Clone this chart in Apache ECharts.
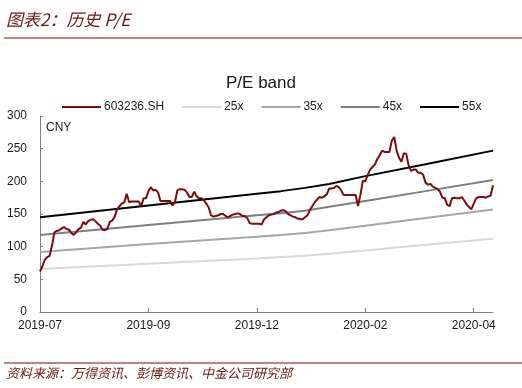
<!DOCTYPE html>
<html>
<head>
<meta charset="utf-8">
<script src="https://cdn.jsdelivr.net/npm/echarts@6/dist/echarts.min.js"></script>
<style>
html,body{margin:0;padding:0;background:#fff;}
#c{width:522px;height:388px;}
</style>
</head>
<body>
<div id="c"></div>
<script>
// Tick labels (one every 45 trading days)
var tickLabels = ['2019-07', '2019-09', '2019-12', '2020-02', '2020-04'];
var tickStep = 45;

// 603236.SH daily close (CNY)
var price = [
  62, 70, 80, 84, 86, 102, 122, 124, 125, 128,
  130, 127, 126, 121, 118, 122, 127, 129, 138, 134,
  139, 141, 142, 139, 135, 132, 126, 125, 128, 138,
  140, 146, 157, 162, 166, 168, 181, 168, 169, 169,
  169, 169, 162, 174, 174, 185, 191, 186, 187, 183,
  170, 170, 170, 170, 170, 163, 168, 186, 188, 188,
  187, 183, 176, 176, 184, 177, 174, 174, 171, 166,
  160, 148, 146, 147, 148, 150, 150, 147, 145, 147,
  149, 150, 151, 150, 147, 147, 144, 136, 135, 135,
  135, 135, 134, 142, 145, 148, 149, 150, 152, 153,
  155, 156, 154, 150, 148, 146, 145, 143, 142, 142,
  145, 148, 156, 162, 168, 172, 176, 175, 177, 180,
  189, 189, 190, 193, 191, 186, 179, 179, 179, 179,
  179, 179, 162, 180, 201, 200, 210, 218, 222, 226,
  234, 240, 247, 245, 245, 245, 262, 268, 247, 236,
  230, 243, 242, 224, 216, 218, 218, 213, 213, 210,
  198, 195, 196, 192, 190, 188, 184, 175, 174, 164,
  162, 174, 175, 174, 174, 176, 171, 165, 161, 157,
  166, 174, 176, 176, 176, 175, 177, 178, 194
];

// P/E band values read at these trading-day indices
var bandIdx = [0, 45, 90, 100, 110, 120, 135, 160, 188];
var pe25 = [66, 74, 82, 84, 86, 89, 94, 103, 112];
var pe35 = [92, 104, 115, 118, 121, 125, 132, 144, 157];
var pe45 = [118, 133, 148, 151, 155, 161, 170, 185, 202];
var pe55 = [145, 163, 181, 185, 190, 196, 208, 226, 247];

var seriesNames = ['603236.SH', '25x', '35x', '45x', '55x'];
var seriesColors = ['#7a0c0c', '#d9d9d9', '#a6a6a6', '#7f7f7f', '#000000'];

var categories = price.map(function (_, i) { return String(i); });

function band(vals) {
  var arr = price.map(function () { return null; });
  bandIdx.forEach(function (idx, k) { arr[idx] = vals[k]; });
  return arr;
}

var latin = "'Liberation Sans', Arial, sans-serif";
var cjk = "'Noto Sans CJK SC', sans-serif";
var headColor = '#6b1414';

var chart = echarts.init(document.getElementById('c'), null, {renderer: 'canvas'});
var bandsData = [price, band(pe25), band(pe35), band(pe45), band(pe55)];

chart.setOption({
  animation: false,
  backgroundColor: '#fff',
  title: [{
    text: 'P/E band',
    left: 'center',
    top: 70,
    textStyle: {fontFamily: latin, fontSize: 17, fontWeight: 'normal', color: '#1a1a1a'}
  }],
  legend: {
    top: 96,
    left: 57,
    icon: 'rect',
    itemWidth: 39,
    itemHeight: 2,
    itemGap: 18,
    textStyle: {fontFamily: latin, fontSize: 12, color: '#1a1a1a', padding: [0, 0, 0, -2]},
    data: seriesNames
  },
  grid: {left: 40, right: 29, top: 116, bottom: 76, containLabel: false},
  xAxis: {
    type: 'category',
    boundaryGap: false,
    data: categories,
    axisLine: {lineStyle: {color: '#808080', width: 1}},
    axisTick: {show: true, inside: true, length: 4, interval: tickStep - 1, lineStyle: {color: '#808080'}},
    axisLabel: {
      interval: tickStep - 1,
      margin: 8,
      fontFamily: latin, fontSize: 12, color: '#1a1a1a',
      formatter: function (v, idx) { return tickLabels[Math.round(idx / tickStep)] || ''; }
    },
    splitLine: {show: false}
  },
  yAxis: {
    type: 'value',
    min: 0, max: 300, interval: 50,
    name: 'CNY',
    nameLocation: 'end',
    nameGap: 0,
    nameTextStyle: {fontFamily: latin, fontSize: 12, color: '#1a1a1a', align: 'left', verticalAlign: 'top', padding: [6, 0, 0, 6]},
    axisLine: {show: true, lineStyle: {color: '#808080', width: 1}},
    axisTick: {show: true, inside: true, length: 3, lineStyle: {color: '#808080'}},
    axisLabel: {fontFamily: latin, fontSize: 12, color: '#1a1a1a', margin: 13},
    splitLine: {show: false}
  },
  graphic: [
    {type: 'text', left: 6, top: 11, style: {text: '图表2：历史 P/E', font: 'italic 17px ' + cjk, fill: headColor}},
    {type: 'line', shape: {x1: 4, y1: 38, x2: 522, y2: 38}, style: {stroke: '#a65a5a', lineWidth: 1.5}},
    {type: 'line', shape: {x1: 4, y1: 363, x2: 522, y2: 363}, style: {stroke: '#a65a5a', lineWidth: 1.5}},
    {type: 'text', left: 6, top: 367, style: {text: '资料来源：万得资讯、彭博资讯、中金公司研究部', font: 'italic 13px ' + cjk, fill: headColor}}
  ],
  series: seriesNames.map(function (name, k) {
    return {
      name: name,
      type: 'line',
      data: bandsData[k],
      symbol: 'none',
      connectNulls: true,
      smooth: false,
      z: k === 0 ? 10 : 2,
      lineStyle: {color: seriesColors[k], width: 2},
      itemStyle: {color: seriesColors[k]}
    };
  })
});
</script>
</body>
</html>
